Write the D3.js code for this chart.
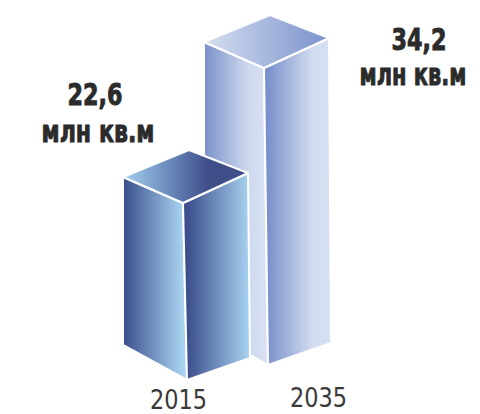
<!DOCTYPE html>
<html>
<head>
<meta charset="utf-8">
<script src="https://cdn.jsdelivr.net/npm/d3@7"></script>
<style>
  html, body { margin: 0; padding: 0; background: #ffffff; }
  svg { display: block; }
</style>
</head>
<body>
<script>
// ---- data ----
const categories = ['2015', '2035'];
const values = [22.6, 34.2];
const valueLabels = ['22,6', '34,2'];
const unitLabel = 'млн кв.м';

// ---- layout ----
const W = 480, H = 414;
const svg = d3.select('body').append('svg').attr('width', W).attr('height', H);

// front-bottom x of each prism
const x = d3.scalePoint().domain(categories).range([187, 268]).padding(0);
// y of the front-top corner for a value
const y = d3.scaleLinear().domain([0, 34.2]).range([466, 68]);
// sloping ground line (perspective)
const baseY = fx => 380 - (fx - 187) * (15 / 81);

const palettes = [
  { left: [['0', '#3b4d8c'], ['1', '#a8d3f0']],
    right: [['0', '#3c4e8c'], ['1', '#a8d4f1']],
    top: [['0', '#a4d0ef'], ['0.45', '#5f7aaf'], ['0.68', '#3f4e88'], ['1', '#3f4e88']] },
  { left: [['0', '#7990ca'], ['0.75', '#d0daef'], ['1', '#d6e0f2']],
    right: [['0', '#7a91cb'], ['0.7', '#d2dcf0'], ['1', '#d6e0f2']],
    top: [['0', '#d6e0f2'], ['1', '#7990ca']] }
];

const defs = svg.append('defs');
function grad(id, x1, x2, stops) {
  const g = defs.append('linearGradient').attr('id', id)
    .attr('gradientUnits', 'userSpaceOnUse')
    .attr('x1', x1).attr('x2', x2).attr('y1', 0).attr('y2', 0);
  stops.forEach(s => g.append('stop').attr('offset', s[0]).attr('stop-color', s[1]));
}

const bars = categories.map((c, i) => {
  const fx = x(c), by = baseY(fx), ty = y(values[i]);
  const FB = [fx, by], FT = [fx - 4, ty];
  const LT = [fx - 64, ty - 26], LB = [fx - 64, by - 35];
  const RT = [fx + 61, ty - 30], RB = [fx + 63, by - 22];
  const BT = [fx + 2, ty - 53];
  return { i, c, fx, by, ty, FB, FT, LT, LB, RT, RB, BT };
});

bars.forEach(b => {
  const p = palettes[b.i];
  grad('gl' + b.i, b.LT[0], b.FT[0], p.left);
  grad('gr' + b.i, b.FB[0], b.RB[0], p.right);
  grad('gt' + b.i, b.LT[0], b.RT[0], p.top);
});

const line = d3.line();
const g = svg.append('g');
// draw the taller (rear) bar first
[...bars].reverse().forEach(b => {
  const bg = g.append('g');
  const faces = [
    { pts: [b.LT, b.FT, b.FB, b.LB], fill: 'url(#gl' + b.i + ')' },
    { pts: [b.FT, b.RT, b.RB, b.FB], fill: 'url(#gr' + b.i + ')' },
    { pts: [b.LT, b.BT, b.RT, b.FT], fill: 'url(#gt' + b.i + ')' }
  ];
  bg.selectAll('path').data(faces).join('path')
    .attr('d', d => line(d.pts) + 'Z')
    .attr('fill', d => d.fill)
    .attr('stroke', '#ffffff')
    .attr('stroke-width', 2)
    .attr('stroke-linejoin', 'round');
});

// text fitted to a target width by horizontal scaling
const fontBold = '"DejaVu Sans Condensed", "DejaVu Sans", sans-serif';
function fitText(str, cx, by, width, size, opts) {
  const t = svg.append('text').text(str)
    .attr('text-anchor', 'middle')
    .attr('font-family', fontBold)
    .attr('font-stretch', 'condensed')
    .attr('font-size', size)
    .attr('fill', opts.fill);
  if (opts.bold) t.attr('font-weight', 'bold').attr('stroke', opts.fill).attr('stroke-width', 0.9);
  const natural = t.node().getComputedTextLength();
  const sx = width / natural;
  t.attr('transform', `translate(${cx},${by}) scale(${sx},1)`);
  return t;
}

// ---- value labels ----
const labelPos = [
  { num: [95, 105], unit: [98, 142], numW: 55, unitW: 113 },
  { num: [419, 50], unit: [413, 85], numW: 55, unitW: 107 }
];
bars.forEach(b => {
  const lp = labelPos[b.i];
  fitText(valueLabels[b.i], lp.num[0], lp.num[1], lp.numW, 31, { bold: true, fill: '#2b2b2b' });
  fitText(unitLabel, lp.unit[0], lp.unit[1], lp.unitW, 31, { bold: true, fill: '#2b2b2b' });
});

// ---- category axis labels ----
const yearPos = [[178.5, 408.5], [318.5, 407]];
bars.forEach(b => {
  fitText(b.c, yearPos[b.i][0], yearPos[b.i][1], 57, 27, { bold: false, fill: '#3a3a3a' });
});
</script>
</body>
</html>
